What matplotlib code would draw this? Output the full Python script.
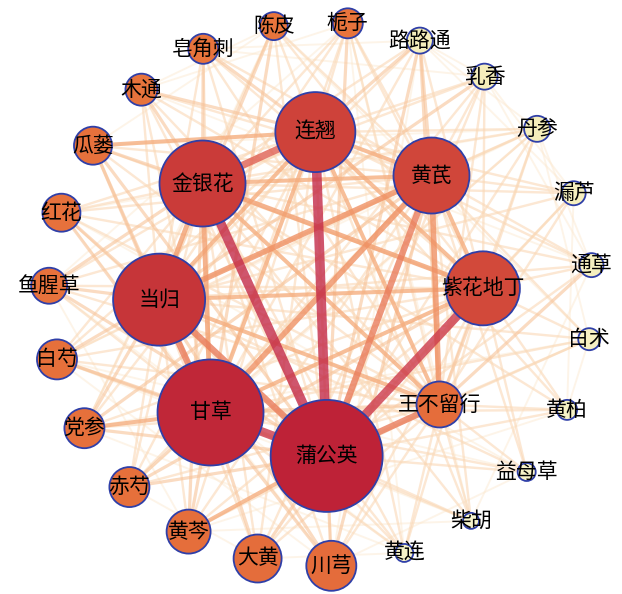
import numpy as np
import matplotlib.pyplot as plt
from matplotlib.colors import LinearSegmentedColormap
from matplotlib.patches import Circle

plt.rcParams['font.family'] = ['Noto Sans CJK SC', 'DejaVu Sans']

# core herbs (inner ring) and how often each was used
hub_names = ['连翘', '黄芪', '紫花地丁', '王不留行', '蒲公英', '甘草', '当归', '金银花']
hub_freq = [40, 38, 37, 23, 56, 53, 46, 43]

# outer ring herbs
outer_names = ['陈皮', '栀子', '路路通', '乳香', '丹参', '漏芦', '通草', '白术', '黄柏',
	'益母草', '柴胡', '黄连', '川芎', '大黄', '黄芩', '赤芍', '党参', '白芍', '鱼腥草',
	'红花', '瓜蒌', '木通', '皂角刺']
outer_freq = [14, 15, 13, 13, 13, 12, 12, 11, 10, 9, 8, 9, 25, 24, 22, 20, 20, 20, 18,
	19, 19, 16, 15]

# co-occurrence between core herbs
hub_links = [
	('连翘', '蒲公英', 10), ('金银花', '蒲公英', 10), ('紫花地丁', '蒲公英', 9),
	('甘草', '蒲公英', 9), ('连翘', '金银花', 7), ('黄芪', '蒲公英', 6),
	('当归', '蒲公英', 6), ('王不留行', '蒲公英', 6), ('当归', '甘草', 6),
	('黄芪', '当归', 5), ('黄芪', '甘草', 5), ('黄芪', '王不留行', 5),
	('金银花', '甘草', 4), ('金银花', '当归', 4), ('金银花', '紫花地丁', 4),
	('金银花', '黄芪', 3), ('连翘', '黄芪', 3), ('连翘', '当归', 3),
	('连翘', '甘草', 3), ('连翘', '紫花地丁', 3), ('当归', '紫花地丁', 3),
	('甘草', '紫花地丁', 3), ('金银花', '王不留行', 3), ('当归', '王不留行', 3),
	('甘草', '王不留行', 2), ('紫花地丁', '王不留行', 2), ('连翘', '王不留行', 3),
	('黄芪', '紫花地丁', 3),
]

# outer herb -> core herb co-occurrence, columns in hub_names order
outer_hub_links = [
	[1, 1, 1, 0, 1, 2, 2, 1],
	[1, 1, 1, 1, 2, 1, 1, 1],
	[2, 2, 1, 2, 2, 1, 1, 1],
	[1, 1, 1, 1, 1, 1, 2, 1],
	[1, 1, 1, 1, 1, 1, 1, 1],
	[1, 1, 1, 1, 1, 0, 1, 1],
	[1, 1, 1, 2, 1, 0, 1, 1],
	[0, 1, 1, 1, 1, 1, 1, 0],
	[1, 0, 1, 1, 1, 1, 0, 1],
	[0, 1, 1, 1, 1, 1, 1, 0],
	[1, 1, 0, 1, 1, 1, 0, 1],
	[1, 0, 1, 1, 1, 1, 1, 1],
	[1, 2, 1, 1, 2, 2, 2, 1],
	[1, 1, 1, 1, 2, 2, 1, 1],
	[1, 1, 1, 1, 3, 2, 1, 2],
	[1, 1, 2, 1, 2, 2, 1, 1],
	[1, 2, 1, 1, 2, 3, 2, 1],
	[1, 1, 1, 1, 2, 2, 2, 1],
	[1, 1, 1, 1, 2, 1, 2, 2],
	[1, 1, 1, 1, 1, 2, 2, 1],
	[3, 1, 1, 1, 2, 2, 2, 2],
	[2, 1, 1, 1, 1, 1, 1, 2],
	[2, 1, 1, 1, 1, 1, 1, 2],
]

# weak links between outer herbs
outer_links = [
	('路路通', '丹参'), ('路路通', '乳香'), ('路路通', '漏芦'), ('乳香', '漏芦'),
	('乳香', '通草'), ('丹参', '通草'), ('丹参', '白术'), ('漏芦', '黄柏'),
	('陈皮', '木通'), ('陈皮', '瓜蒌'), ('陈皮', '党参'), ('栀子', '黄连'),
	('栀子', '柴胡'), ('栀子', '木通'), ('皂角刺', '乳香'), ('皂角刺', '路路通'),
	('木通', '通草'), ('瓜蒌', '丹参'), ('红花', '川芎'), ('红花', '丹参'),
	('红花', '益母草'), ('鱼腥草', '黄芩'), ('鱼腥草', '黄连'), ('白芍', '柴胡'),
	('白芍', '川芎'), ('党参', '白术'), ('党参', '黄连'), ('赤芍', '丹参'),
	('赤芍', '大黄'), ('黄芩', '黄柏'), ('黄芩', '柴胡'), ('大黄', '黄连'),
	('川芎', '益母草'), ('柴胡', '通草'), ('益母草', '白芍'), ('黄柏', '白术'),
	('陈皮', '白术'), ('栀子', '鱼腥草'), ('路路通', '川芎'), ('丹参', '白芍'),
]


def main():
	cx, cy = 321, 294
	pos = {}
	for i, n in enumerate(hub_names):
		a = np.radians(92 - 45 * i)
		pos[n] = (cx + 162 * np.cos(a), cy - 162 * np.sin(a))
	for i, n in enumerate(outer_names):
		a = np.radians(100 - i * 360.0 / len(outer_names))
		pos[n] = (cx + 272 * np.cos(a), cy - 272 * np.sin(a))

	edges = list(hub_links)
	for i, row in enumerate(outer_hub_links):
		for j, w in enumerate(row):
			if w > 0:
				edges.append((outer_names[i], hub_names[j], w))
	for a, b in outer_links:
		edges.append((a, b, 0.4))
	edges.sort(key=lambda e: e[2])

	edge_cmap = LinearSegmentedColormap.from_list('edges', [
		(0.0, '#FDF1DC'), (0.12, '#F9D3AE'), (0.3, '#F5AE7E'),
		(0.55, '#EE8A5E'), (0.75, '#DA5350'), (1.0, '#C32A48')])
	node_cmap = LinearSegmentedColormap.from_list('nodes', [
		(0.0, '#F7F4CC'), (0.105, '#F5EEBC'), (0.125, '#E8753C'),
		(0.35, '#E46C3B'), (0.6, '#D2493A'), (0.8, '#C63439'), (1.0, '#BE2237')])

	fig, ax = plt.subplots(figsize=(6.22, 5.94), dpi=100)
	fig.subplots_adjust(0, 0, 1, 1)
	ax.set_xlim(0, 622)
	ax.set_ylim(594, 0)
	ax.set_aspect('equal')
	ax.axis('off')

	for a, b, w in edges:
		x0, y0 = pos[a]
		x1, y1 = pos[b]
		if w < 1:
			alpha = 0.45
		elif w <= 2:
			alpha = 0.6
		else:
			alpha = 0.8
		ax.plot([x0, x1], [y0, y1], color=edge_cmap(w / 10.0),
			linewidth=(1.6 + 0.8 * w) * 0.72, alpha=alpha,
			solid_capstyle='butt', zorder=1)

	names = hub_names + outer_names
	freqs = hub_freq + outer_freq
	for n, f in zip(names, freqs):
		c = node_cmap((f - 8) / 48.0)
		ax.add_patch(Circle(pos[n], f, facecolor=c, edgecolor='#2F3FA8',
			linewidth=1.3, zorder=3))
		ax.text(pos[n][0], pos[n][1], n, fontsize=15, ha='center', va='center',
			color='black', zorder=4)

	plt.savefig('out.png', dpi=100)


if __name__ == "__main__":
	main()
